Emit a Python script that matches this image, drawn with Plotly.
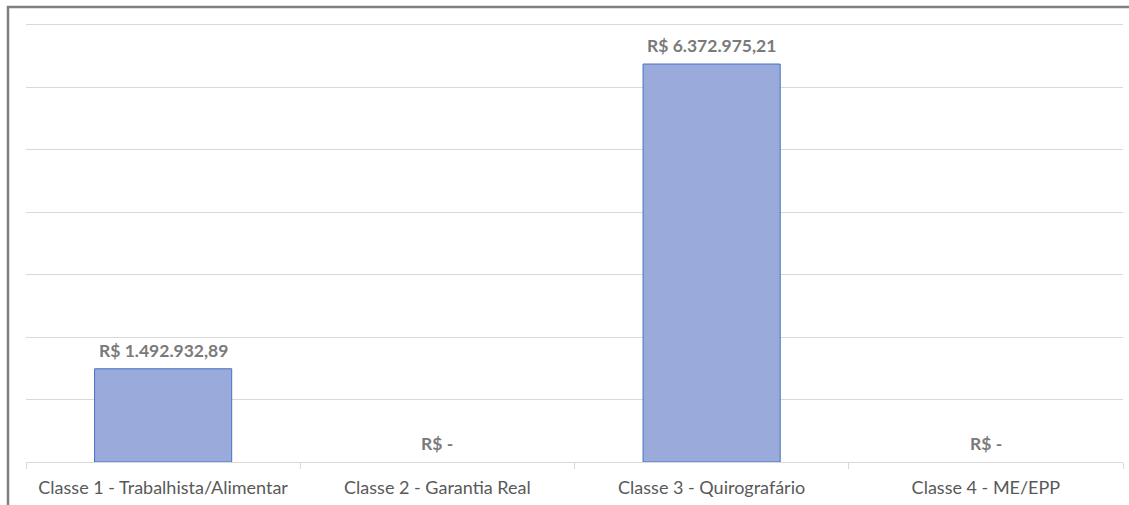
import plotly.graph_objects as go

categories = ["Classe 1 - Trabalhista/Alimentar", "Classe 2 - Garantia Real",
              "Classe 3 - Quirografário", "Classe 4 - ME/EPP"]
values = [1492932.89, 0.0, 6372975.21, 0.0]


def brl(v):
    if v == 0:
        return "R$ -"
    s = f"{v:,.2f}".replace(",", "X").replace(".", ",").replace("X", ".")
    return "R$ " + s


labels = [brl(v) for v in values]

W, H = 1129, 505
L, R, T, B = 26, 6, 23, 43
pw, ph = W - L - R, H - T - B


def px_x(p):
    return (p - L) / pw


def px_y(p):
    return (H - B - p) / ph


fig = go.Figure(go.Bar(
    x=categories, y=values,
    marker=dict(color="#9aabdb",
                line=dict(color="#4472c4", width=[1 if v > 0 else 0 for v in values])),
    width=0.5, hoverinfo="skip",
))

for c, v, t in zip(categories, values, labels):
    fig.add_annotation(x=c, y=v, text=t, showarrow=False, yanchor="bottom",
                       yshift=6,
                       font=dict(family="Lato", size=17.5, color="#7a7a7a", weight="bold"))

fig.update_layout(
    width=W, height=H, margin=dict(l=L, r=R, t=T, b=B),
    paper_bgcolor="white", plot_bgcolor="white", showlegend=False,
    xaxis=dict(showline=True, linecolor="#d9d9d9", linewidth=1,
               ticks="outside", tickson="boundaries", ticklen=6, tickcolor="#d9d9d9",
               tickfont=dict(family="Lato", size=18, color="#595959"),
               ticklabelstandoff=9),
    yaxis=dict(range=[0, 7030000], dtick=1000000, showticklabels=False,
               showgrid=True, gridcolor="#d9d9d9", gridwidth=1, zeroline=False),
    shapes=[dict(type="rect", xref="paper", yref="paper",
                 x0=px_x(8), x1=px_x(1160), y0=px_y(530), y1=px_y(7),
                 line=dict(color="#808080", width=2.5), fillcolor="rgba(0,0,0,0)",
                 layer="above")],
)

fig.write_html("out.html", config={"displayModeBar": False},
               post_script="document.body.style.margin='0';document.body.style.overflow='hidden';")
